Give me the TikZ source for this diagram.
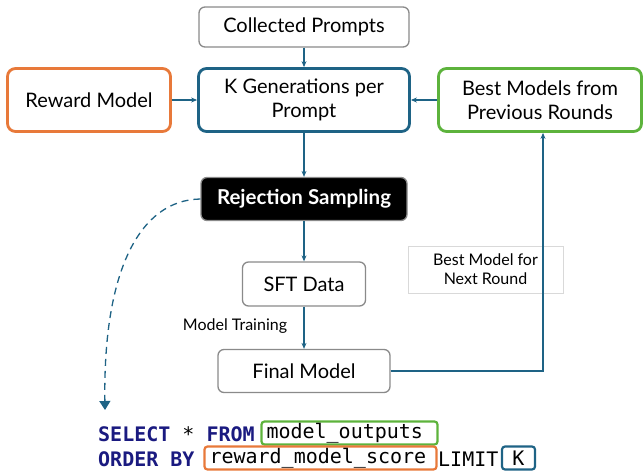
\documentclass[tikz,border=0pt]{standalone}
\usepackage{fontspec}
\setmainfont{Lato}
\newfontfamily\codefont{DejaVu Sans Mono}
\usetikzlibrary{arrows.meta}
\definecolor{cblue}{HTML}{1E6385}
\definecolor{corange}{HTML}{E8793A}
\definecolor{cgreen}{HTML}{5DB33C}
\definecolor{cgray}{HTML}{8A8A8A}
\definecolor{cnavy}{HTML}{1A1A80}
\newcommand{\kwd}[1]{{\color{cnavy}\bfseries #1}}
\begin{document}
\begin{tikzpicture}[x=1pt,y=-1pt,
  plainbox/.style={draw=cgray,line width=1.3pt,rounded corners=6pt,fill=white,align=center,font=\fontsize{20}{24}\selectfont,inner sep=0pt},
  boldbox/.style={line width=2.8pt,rounded corners=8pt,fill=white,align=center,font=\fontsize{20}{24}\selectfont,inner sep=0pt},
  flow/.style={draw=cblue,line width=1.2pt,-{Stealth[length=6pt,width=5pt]}},
  codebox/.style={line width=2.2pt,rounded corners=3pt,inner sep=0pt,font=\codefont\fontsize{20}{22}\selectfont},
  code/.style={inner sep=0pt,font=\codefont\fontsize{20}{22}\selectfont}]
\useasboundingbox (0,0) rectangle (644,471);
\node[plainbox,minimum width=210pt,minimum height=40pt] (cp) at (304,27) {Collected Prompts};
\node[boldbox,draw=cblue,minimum width=211pt,minimum height=63pt] (kg) at (304,100) {K Generations per\\Prompt};
\node[boldbox,draw=corange,minimum width=163pt,minimum height=63pt] (rm) at (89,100) {Reward Model};
\node[boldbox,draw=cgreen,minimum width=203pt,minimum height=63pt] (bm) at (540,100) {Best Models from\\Previous Rounds};
\node[draw=cgray,line width=1.3pt,rounded corners=6pt,fill=black,text=white,minimum width=206pt,minimum height=43pt,inner sep=0pt,font=\bfseries\fontsize{20.5}{24}\selectfont] (rs) at (304,199) {Rejection Sampling};
\node[plainbox,minimum width=123pt,minimum height=44pt] (sft) at (304,284) {SFT Data};
\node[plainbox,minimum width=172pt,minimum height=43pt] (fm) at (304,371) {Final Model};
\node[draw=black!15,line width=0.6pt,minimum width=155pt,minimum height=47pt,align=center,inner sep=0pt,font=\fontsize{16}{19}\selectfont] (lb) at (485.5,269.5) {Best Model for\\Next Round};
\node[inner sep=0pt,font=\fontsize{16}{18}\selectfont] (mt) at (235,326) {Model Training};
\draw[flow] (cp) -- (kg);
\draw[flow] (rm) -- (kg);
\draw[flow] (bm) -- (kg);
\draw[flow] (kg) -- (rs);
\draw[flow] (rs) -- (sft);
\draw[flow] (sft) -- (fm);
\coordinate (corner) at (543,371);
\draw[flow] (fm.east) -- (corner) -- (bm.south -| corner);
\coordinate (dend) at (105,410);
\draw[draw=cblue,line width=1.3pt,dash pattern=on 7pt off 5pt,-{Triangle[length=9pt,width=11pt]}] (rs.west) .. controls (140,200) and (103,270) .. (dend);
% SQL
\node[code,anchor=west] (sel) at (98,434) {\kwd{SELECT} * \kwd{FROM}};
\node[codebox,draw=cgreen,minimum width=176pt,minimum height=23pt,text width=166pt,align=left] (mo) at (349.5,433) {model\_outputs};
\node[code,anchor=west] (ob) at (98,459) {\kwd{ORDER BY}};
\node[codebox,draw=corange,minimum width=232pt,minimum height=23pt,text width=222pt,align=left] (rms) at (320.5,458) {reward\_model\_score};
\node[code,anchor=west] (lim) at (438,459) {LIMIT};
\node[codebox,draw=cblue,minimum width=33pt,minimum height=23pt,text width=25pt,align=center] (kk) at (518.5,458) {K};
\end{tikzpicture}
\end{document}
